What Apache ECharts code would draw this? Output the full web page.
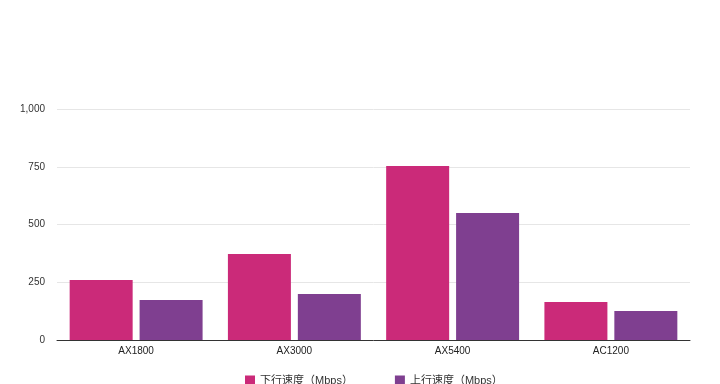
<!DOCTYPE html>
<html><head><meta charset="utf-8">
<script src="https://cdn.jsdelivr.net/npm/echarts@6/dist/echarts.min.js"></script>
<style>html,body{margin:0;padding:0;background:#fff}#c{width:720px;height:384px}</style>
</head><body><div id="c"></div>
<script>
const categories = ['AX1800', 'AX3000', 'AX5400', 'AC1200'];
const downSpeed = [260, 372, 753, 164];
const upSpeed = [173, 199, 550, 126];
const seriesNames = ['下行速度（Mbps）', '上行速度（Mbps）'];
const chart = echarts.init(document.getElementById('c'));
chart.setOption({
  animation: false,
  textStyle: { fontFamily: 'Helvetica, Arial, "Liberation Sans", "Noto Sans CJK SC", sans-serif' },
  grid: { left: 57, right: 30, top: 109, bottom: 44 },
  legend: {
    bottom: -7, left: 240, itemGap: 42, itemWidth: 10, itemHeight: 10, icon: 'rect',
    textStyle: { fontSize: 11, color: '#333' },
    data: seriesNames
  },
  xAxis: {
    type: 'category', data: categories,
    axisLine: { lineStyle: { color: '#333', width: 1 } },
    axisTick: { show: false },
    axisLabel: { color: '#222', fontSize: 10, margin: 6 }
  },
  yAxis: {
    type: 'value', min: 0, max: 1000, interval: 250,
    axisLine: { show: false }, axisTick: { show: false },
    axisLabel: { color: '#333', fontSize: 10, margin: 12, formatter: v => v.toLocaleString('en-US') },
    splitLine: { lineStyle: { color: '#e6e6e6' } }
  },
  series: [
    { name: seriesNames[0], type: 'bar', data: downSpeed, barGap: '11%', barCategoryGap: '16%', itemStyle: { color: '#CB2A79' } },
    { name: seriesNames[1], type: 'bar', data: upSpeed, itemStyle: { color: '#7F3F90' } }
  ]
});
</script></body></html>
